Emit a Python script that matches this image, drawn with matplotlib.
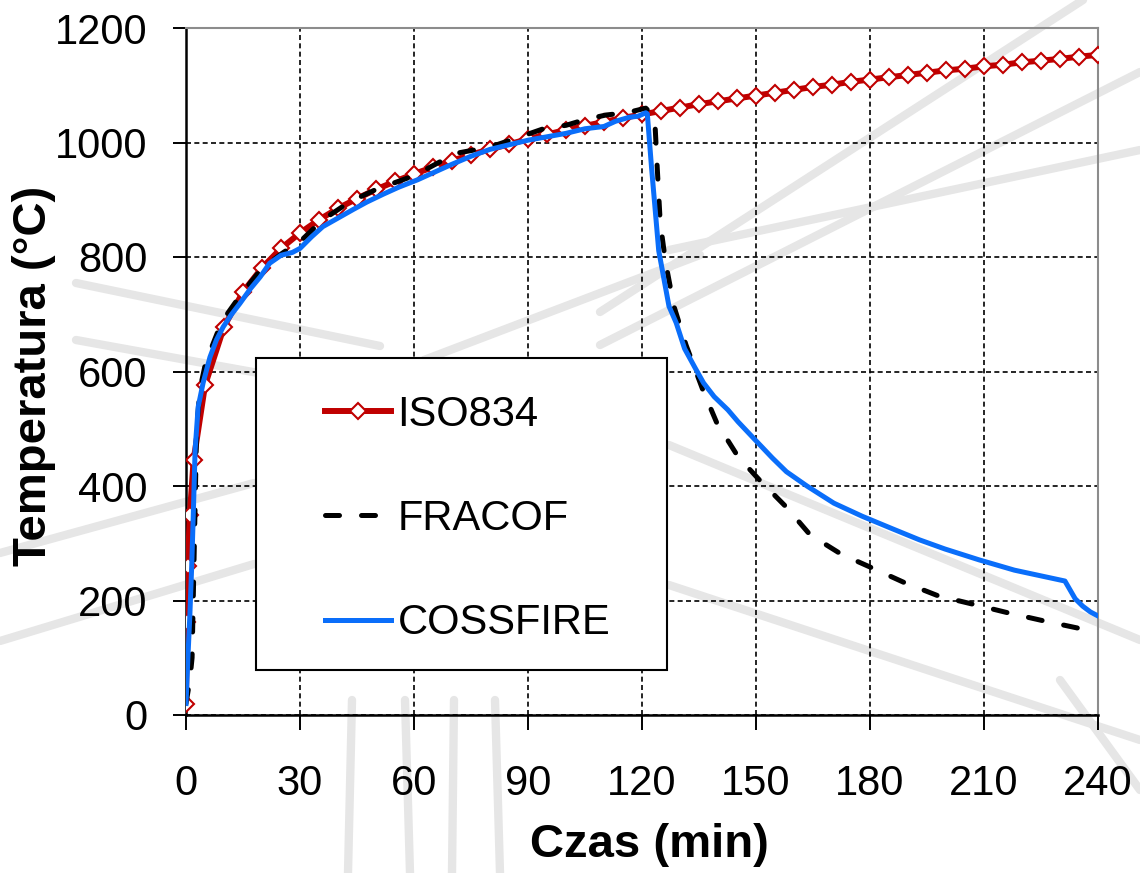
import matplotlib.pyplot as plt
from matplotlib.lines import Line2D
from matplotlib.patches import Rectangle

plt.rcParams['font.family'] = ['Liberation Sans', 'DejaVu Sans']

# ISO834 standard fire curve (markers every 5 min)
iso_t = [0, 0.2, 0.5, 1, 2, 5, 10, 15, 20, 25, 30, 35, 40, 45, 50, 55, 60,
         65, 70, 75, 80, 85, 90, 95, 100, 105, 110, 115, 120, 125, 130, 135,
         140, 145, 150, 155, 160, 165, 170, 175, 180, 185, 190, 195, 200,
         205, 210, 215, 220, 225, 230, 235, 240]
iso_T = [20, 163, 261, 349, 445, 576, 678, 739, 781, 815, 842, 865, 885,
         902, 918, 932, 945, 957, 968, 979, 988, 997, 1006, 1014, 1022, 1029,
         1036, 1043, 1049, 1055, 1061, 1067, 1072, 1077, 1082, 1087, 1092,
         1097, 1101, 1106, 1110, 1114, 1118, 1122, 1126, 1129, 1133, 1136,
         1140, 1143, 1146, 1150, 1153]

# FRACOF
fra_t = [0, 1, 1.6, 2.2, 2.8, 3.7, 5, 6.8, 9, 11, 14, 16.8, 20, 25, 30.5,
         36, 43, 50, 60, 71, 80, 88, 94.5, 100, 105, 110.5, 116, 121, 122.5,
         123.4, 124, 124.8, 126.2, 128.4, 131.6, 136, 139.7, 145.3, 150.7,
         158, 164.2, 172.4, 180.5, 188.8, 198, 206.8, 216, 226, 236, 237.5]
fra_T = [20, 60, 100, 300, 500, 570, 610, 643, 680, 702, 730, 754, 780, 805,
         830, 865, 896, 918, 942, 981, 992, 1010, 1025, 1030, 1040, 1048,
         1052, 1060, 1050, 1035, 957, 860, 791, 714, 646, 568, 510, 451, 412,
         363, 315, 281, 257, 232, 208, 194, 179, 164, 150, 147]

# COSSFIRE
cos_t = [0, 0.5, 1, 1.5, 1.9, 2.4, 3.2, 4.5, 6.3, 8, 9.8, 12, 14.2, 17,
         19.5, 22, 25, 28, 30, 33, 36, 40, 44, 47.6, 52, 56, 61, 66, 70, 75,
         80, 85, 90, 95, 100, 105, 110, 113, 116.6, 119, 121, 121.4, 122.5,
         124.4, 127.1, 129, 131.2, 134, 136.2, 139, 142.6, 145.3, 150, 154.3,
         158, 163.4, 170.5, 178, 186, 193, 199.7, 208.7, 218, 225, 231.3,
         234, 236, 238, 240]
cos_T = [20, 100, 172, 260, 346, 463, 538, 580, 625, 655, 678, 700, 719,
         745, 765, 789, 803, 808, 815, 835, 853, 868, 883, 896, 910, 922,
         935, 950, 962, 976, 988, 996, 1004, 1010, 1016, 1024, 1028, 1037,
         1044, 1046, 1052, 1050, 957, 811, 714, 685, 640, 606, 580, 556, 533,
         512, 479, 449, 425, 400, 370, 347, 325, 306, 290, 271, 253, 243, 234,
         203, 190, 180, 173]

x_ticks = [0, 30, 60, 90, 120, 150, 180, 210, 240]
y_ticks = [0, 200, 400, 600, 800, 1000, 1200]

# faint background strokes (watermark), pixel coords
watermark = [
    ((600, 312), (1083, 0)), ((600, 345), (1140, 72)), ((669, 250), (1140, 150)),
    ((669, 445), (1140, 640)), ((669, 585), (1140, 740)), ((1060, 680), (1140, 790)),
    ((0, 641), (254, 564)), ((0, 553), (254, 483)),
    ((76, 283), (380, 346)), ((76, 340), (380, 395)), ((424, 360), (700, 255)),
    ((352, 700), (348, 873)), ((405, 700), (410, 873)), ((454, 700), (452, 873)),
    ((495, 700), (500, 873)),
]

fig = plt.figure(figsize=(11.4, 8.73), dpi=100)
W, H = 1140, 873
for (x0, y0), (x1, y1) in watermark:
    fig.add_artist(Line2D([x0 / W, x1 / W], [1 - y0 / H, 1 - y1 / H],
                          color='#e6e6e6', lw=6,
                          solid_capstyle='round', zorder=0))

ax = fig.add_axes([186 / W, 1 - 715 / H, 912 / W, 687 / H])
ax.set_facecolor('none')

ax.plot(iso_t, iso_T, color='#C00000', lw=4.3, marker='D', ms=8.5,
        mfc='white', mec='#C00000', mew=1.5, label='ISO834', zorder=3)
ax.plot(fra_t, fra_T, color='black', lw=3.6, linestyle=(0, (2.8, 4.4)),
        dash_capstyle='round', label='FRACOF', zorder=4)
ax.plot(cos_t, cos_T, color='#0A6EFA', lw=3.6, label='COSSFIRE', zorder=5)

ax.set_xlim(0, 240)
ax.set_ylim(0, 1200)
ax.set_xticks(x_ticks)
ax.set_yticks(y_ticks)
ax.tick_params(axis='x', direction='out', length=11, width=1.4, pad=24,
               labelsize=30)
ax.tick_params(axis='y', direction='out', length=9.5, width=1.4, pad=18,
               labelsize=30)
ax.grid(True, color='black', lw=1.2, linestyle=(0, (3, 2)))
ax.set_axisbelow(True)

for s in ['left', 'bottom']:
    ax.spines[s].set_color('black')
    ax.spines[s].set_linewidth(1.8)
for s in ['top', 'right']:
    ax.spines[s].set_color('#8c8c8c')
    ax.spines[s].set_linewidth(1.5)

ax.set_xlabel('Czas (min)', fontsize=34, fontweight='bold')
ax.set_ylabel('Temperatura (°C)', fontsize=34, fontweight='bold')
ax.xaxis.set_label_coords(0.5077, -0.189)
ax.yaxis.set_label_coords(-0.167, 0.4934)
ax.xaxis.label.set_va('center')
ax.yaxis.label.set_va('center')

box = Rectangle((0.0768, 0.0655), 0.4507, 0.4542, transform=ax.transAxes,
                facecolor='white', edgecolor='black', lw=1.5, zorder=6)
ax.add_patch(box)
leg = ax.legend(loc='upper left', bbox_to_anchor=(0.152, 0.466),
                frameon=False, fontsize=30, borderpad=0, borderaxespad=0,
                handlelength=1.6, handletextpad=0.15, labelspacing=1.54)
leg.set_zorder(7)

fig.savefig('out.png', dpi=100)
